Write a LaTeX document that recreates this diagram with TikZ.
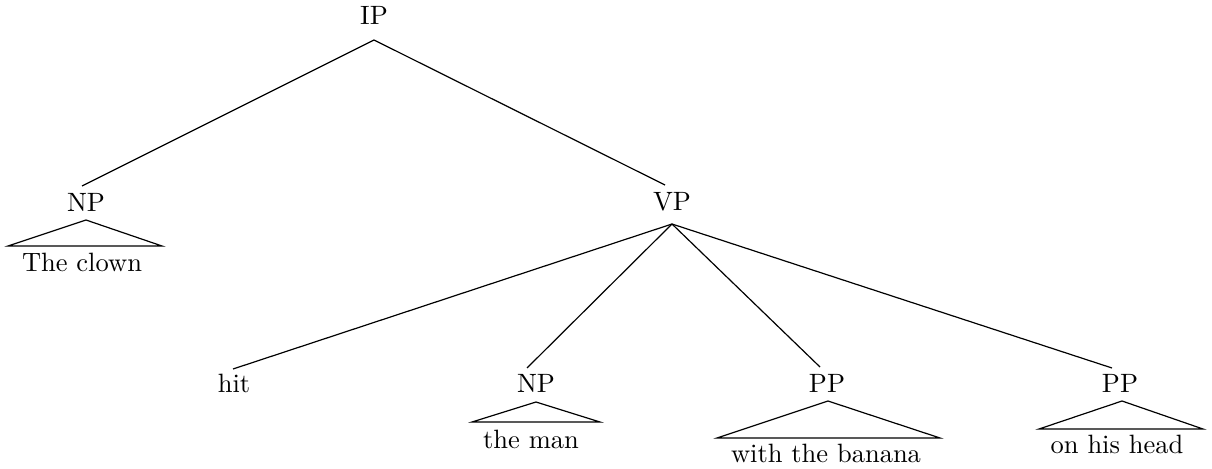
\documentclass[tikz,border=0pt]{standalone}
\begin{document}
\begin{tikzpicture}[x=0.3774pt,y=-0.3774pt,
  lbl/.style={inner sep=0pt,anchor=base},
  branch/.style={line width=0.45pt},
  tri/.style={line width=0.45pt}]
\useasboundingbox (0,0) rectangle (1212,468);
% labels
\node[lbl] (IP) at (374,25) {IP};
\node[lbl] (NPa) at (86,211) {NP};
\node[lbl] (VP) at (672,210) {VP};
\node[lbl] (hit) at (234,392) {hit};
\node[lbl] (NPb) at (536,392) {NP};
\node[lbl] (PPa) at (827,392) {PP};
\node[lbl] (PPb) at (1120,392) {PP};
% yields
\node[lbl] (clown) at (82,271) {The clown};
\node[lbl] (man) at (531,448) {the man};
\node[lbl] (banana) at (826,462) {with the banana};
\node[lbl] (head) at (1117,453) {on his head};
% connector ends
\coordinate (IPb) at (374,40);
\coordinate (NPat) at (82,186);
\coordinate (VPt) at (665,185);
\coordinate (VPb) at (672,224);
\coordinate (hitt) at (233,369);
\coordinate (NPbt) at (527,368);
\coordinate (PPat) at (820,367);
\coordinate (PPbt) at (1112,368);
% branches
\draw[branch] (IPb) -- (NPat);
\draw[branch] (IPb) -- (VPt);
\draw[branch] (VPb) -- (hitt);
\draw[branch] (VPb) -- (NPbt);
\draw[branch] (VPb) -- (PPat);
\draw[branch] (VPb) -- (PPbt);
% triangles
\coordinate (NPaA) at (86,220);
\draw[tri] (8,246) -- (NPaA) -- (162,246) -- cycle;
\coordinate (NPbA) at (536,402);
\draw[tri] (472,422) -- (NPbA) -- (600,422) -- cycle;
\coordinate (PPaA) at (828,401);
\draw[tri] (717,438) -- (PPaA) -- (940,438) -- cycle;
\coordinate (PPbA) at (1122,401);
\draw[tri] (1039,429) -- (PPbA) -- (1203,429) -- cycle;
\end{tikzpicture}
\end{document}
